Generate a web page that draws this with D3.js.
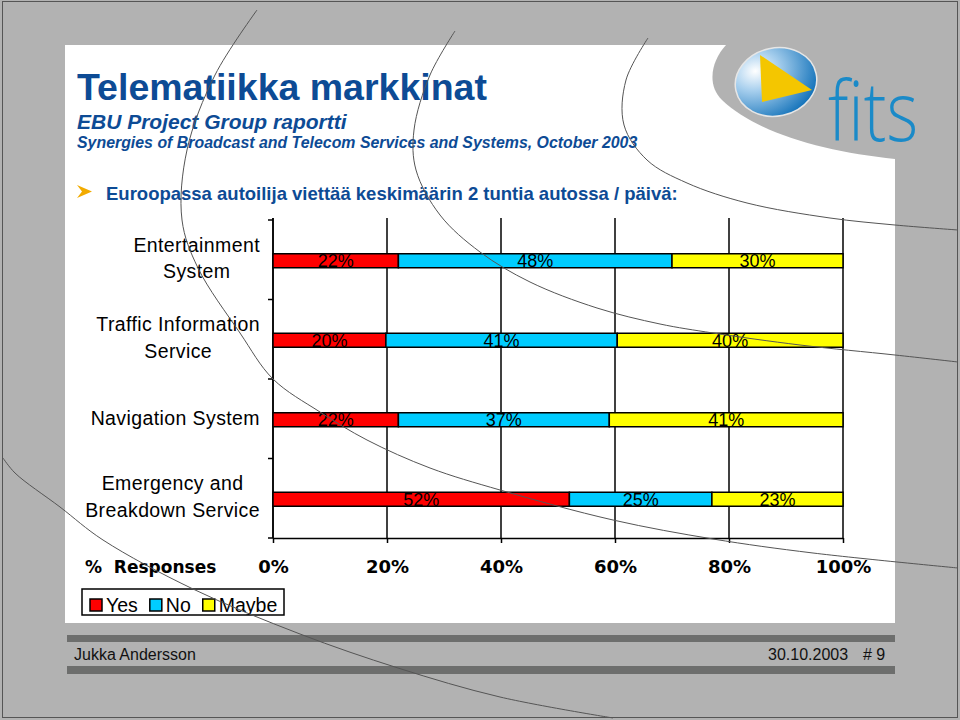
<!DOCTYPE html>
<html>
<head>
<meta charset="utf-8">
<script src="https://cdn.jsdelivr.net/npm/d3@7"></script>
<style>
  body { margin: 0; background: #fff; }
  svg { display: block; }
</style>
</head>
<body>
<div id="app"></div>
<script>
// chart data
const categories = ['Entertainment System', 'Traffic Information Service', 'Navigation System', 'Emergency and Breakdown Service'];
const categoryLines = [['Entertainment', 'System'], ['Traffic Information', 'Service'], ['Navigation System'], ['Emergency and', 'Breakdown Service']];
const seriesNames = ['Yes', 'No', 'Maybe'];
const yesValues = [22, 20, 22, 52];
const noValues = [48, 41, 37, 25];
const maybeValues = [30, 40, 41, 23];
const xTicks = [0, 20, 40, 60, 80, 100];

const colors = { Yes: '#ff0000', No: '#00ccff', Maybe: '#ffff00' };
const blue = '#0d4b95';
const arial = '"Liberation Sans", Arial, sans-serif';
const verdana = '"DejaVu Sans", Verdana, sans-serif';

const width = 960, height = 720;
const plot = { left: 273, right: 843, top: 220, bottom: 538 };

const svg = d3.select('#app').append('svg')
  .attr('width', width)
  .attr('height', height);

// slide background
svg.append('rect').attr('width', width).attr('height', height).attr('fill', '#b2b2b2');
svg.append('rect')
  .attr('x', 65).attr('y', 45).attr('width', 830).attr('height', 578)
  .attr('fill', '#fff');

// grey swoosh behind the logo
svg.append('path')
  .attr('d', 'M726,45 C712,60 706,84 722,100 C758,134 826,152 895,159 L895,45 Z')
  .attr('fill', '#b2b2b2');

// footer bars
svg.append('rect').attr('x', 67).attr('y', 635).attr('width', 828).attr('height', 7).attr('fill', '#6d6e6d');
svg.append('rect').attr('x', 67).attr('y', 666).attr('width', 828).attr('height', 8).attr('fill', '#6d6e6d');

svg.append('text')
  .attr('x', 74).attr('y', 660)
  .style('font-family', arial).style('font-size', '16px').attr('fill', '#111')
  .text('Jukka Andersson');
svg.append('text')
  .attr('x', 768).attr('y', 660)
  .style('font-family', arial).style('font-size', '16px').attr('fill', '#111')
  .text('30.10.2003');
svg.append('text')
  .attr('x', 863).attr('y', 660)
  .style('font-family', arial).style('font-size', '16px').attr('fill', '#111')
  .text('# 9');

// logo
const defs = svg.append('defs');
const grad = defs.append('radialGradient')
  .attr('id', 'ball').attr('cx', '28%').attr('cy', '28%').attr('r', '80%');
grad.append('stop').attr('offset', '0%').attr('stop-color', '#ffffff');
grad.append('stop').attr('offset', '35%').attr('stop-color', '#a9d0ee');
grad.append('stop').attr('offset', '100%').attr('stop-color', '#1473ba');

svg.append('ellipse')
  .attr('cx', 776).attr('cy', 82).attr('rx', 41).attr('ry', 34)
  .attr('transform', 'rotate(-12,776,82)')
  .attr('fill', 'url(#ball)')
  .attr('stroke', '#e6e6e6').attr('stroke-width', 1.5);
svg.append('path')
  .attr('d', 'M760,55 L812,90 L762,102 Z')
  .attr('fill', '#f4c600');
svg.append('text')
  .attr('x', 828).attr('y', 123)
  .attr('textLength', 90).attr('lengthAdjust', 'spacingAndGlyphs')
  .attr('transform', 'translate(0,-123) scale(1,1.15) translate(0,107)')
  .style('font-family', '"Open Sans", sans-serif').style('font-size', '72px').style('font-weight', 300)
  .attr('fill', '#1a8ac8')
  .text('fits');

// headings
svg.append('text')
  .attr('x', 77).attr('y', 100)
  .style('font-family', arial).style('font-size', '37.5px').style('font-weight', 'bold')
  .attr('fill', blue)
  .text('Telematiikka markkinat');
svg.append('text')
  .attr('x', 77).attr('y', 129)
  .style('font-family', arial).style('font-size', '21px').style('font-weight', 'bold').style('font-style', 'italic')
  .attr('fill', blue)
  .text('EBU Project Group raportti');
svg.append('text')
  .attr('x', 77).attr('y', 148)
  .style('font-family', arial).style('font-size', '15.9px').style('font-weight', 'bold').style('font-style', 'italic')
  .attr('fill', blue)
  .text('Synergies of Broadcast and Telecom Services and Systems, October 2003');

svg.append('path')
  .attr('d', 'M77,185 L92,191.5 L77,198 L82,191.5 Z')
  .attr('fill', '#f2ab00');
svg.append('text')
  .attr('x', 106).attr('y', 200)
  .style('font-family', arial).style('font-size', '18.5px').style('font-weight', 'bold')
  .attr('fill', blue)
  .text('Euroopassa autoilija viettää keskimäärin 2 tuntia autossa / päivä:');

// scales
const x = d3.scaleLinear().domain([0, 100]).range([plot.left, plot.right]);
const y = d3.scaleBand().domain(categories).range([plot.top, plot.bottom]);

const rows = categories.map((c, i) => ({
  category: c,
  Yes: yesValues[i],
  No: noValues[i],
  Maybe: maybeValues[i]
}));

const stacked = d3.stack()
  .keys(seriesNames)
  .offset(d3.stackOffsetExpand)(rows);

const chart = svg.append('g');

// vertical grid lines
chart.append('g')
  .selectAll('line')
  .data(xTicks)
  .join('line')
    .attr('x1', d => x(d)).attr('x2', d => x(d))
    .attr('y1', plot.top - 2).attr('y2', plot.bottom)
    .attr('stroke', '#000').attr('stroke-width', 1.5);

// x axis
const xAxis = chart.append('g')
  .attr('transform', `translate(0,${plot.bottom})`)
  .call(d3.axisBottom(x).tickValues(xTicks).tickSize(5).tickSizeOuter(0).tickFormat(d => d + '%'));
xAxis.select('.domain').attr('stroke', '#000').attr('stroke-width', 1.5);
xAxis.selectAll('.tick line').attr('stroke-width', 1.5);
xAxis.selectAll('.tick text')
  .attr('y', 35).attr('dy', 0)
  .style('font-family', verdana).style('font-size', '18px').style('font-weight', 'bold')
  .attr('fill', '#000');

// y axis with ticks on the band boundaries
const bounds = categories.map(c => y(c)).concat([plot.bottom]);
chart.append('line')
  .attr('x1', plot.left).attr('x2', plot.left)
  .attr('y1', plot.top - 2).attr('y2', plot.bottom)
  .attr('stroke', '#000').attr('stroke-width', 1.5);
chart.append('g')
  .selectAll('line')
  .data(bounds)
  .join('line')
    .attr('x1', plot.left - 5).attr('x2', plot.left)
    .attr('y1', d => d).attr('y2', d => d)
    .attr('stroke', '#000').attr('stroke-width', 1.5);

// category labels
const labelRight = 260;
chart.append('g')
  .selectAll('text')
  .data(categories)
  .join('text')
    .style('font-family', arial).style('font-size', '19.5px').style('letter-spacing', '0.4px')
    .attr('fill', '#000')
    .each(function(d, i) {
      const lines = categoryLines[i];
      const cy = y(d) + y.bandwidth() / 2;
      const t = d3.select(this);
      const spans = lines.map((line, j) => t.append('tspan')
        .attr('y', lines.length === 1 ? cy + 6.5 : cy - 8 + j * 26.5)
        .text(line));
      const widths = spans.map(s => s.node().getComputedTextLength());
      const maxW = d3.max(widths);
      spans.forEach((s, j) => s.attr('x', labelRight - maxW / 2 - widths[j] / 2));
    });

// bars
const barH = 14;
const layer = chart.append('g')
  .selectAll('g')
  .data(stacked)
  .join('g')
    .attr('fill', d => colors[d.key]);

layer.selectAll('rect')
  .data(d => d)
  .join('rect')
    .attr('x', d => x(d[0] * 100))
    .attr('width', d => x(d[1] * 100) - x(d[0] * 100))
    .attr('y', d => y(d.data.category) + y.bandwidth() / 2 + 1 - barH / 2)
    .attr('height', barH)
    .attr('stroke', '#000').attr('stroke-width', 1.5);

layer.selectAll('text')
  .data(d => d.map(v => ({ v, key: d.key })))
  .join('text')
    .attr('x', d => x((d.v[0] + d.v[1]) / 2 * 100))
    .attr('y', d => y(d.v.data.category) + y.bandwidth() / 2 + 7.5)
    .attr('text-anchor', 'middle')
    .style('font-family', arial).style('font-size', '18px')
    .attr('fill', '#000')
    .text(d => d.v.data[d.key] + '%');

// axis title
svg.append('text')
  .attr('x', 85).attr('y', 573)
  .attr('xml:space', 'preserve')
  .style('font-family', verdana).style('font-size', '17px').style('font-weight', 'bold')
  .style('white-space', 'pre')
  .text('%  Responses');

// legend
const legend = svg.append('g');
defs.append('clipPath').attr('id', 'legclip')
  .append('rect').attr('x', 82).attr('y', 589).attr('width', 202).attr('height', 26);
legend.append('rect')
  .attr('x', 82).attr('y', 589).attr('width', 202).attr('height', 26)
  .attr('fill', '#fff');
const items = legend.append('g').attr('clip-path', 'url(#legclip)');
let lx = 90;
seriesNames.forEach(name => {
  items.append('rect')
    .attr('x', lx).attr('y', 599).attr('width', 12).attr('height', 12)
    .attr('fill', colors[name]).attr('stroke', '#000').attr('stroke-width', 1.5);
  const t = items.append('text')
    .attr('x', lx + 16).attr('y', 612)
    .style('font-family', arial).style('font-size', '19.5px')
    .text(name);
  lx += 16 + t.node().getComputedTextLength() + 12;
});
legend.append('rect')
  .attr('x', 82).attr('y', 589).attr('width', 202).attr('height', 26)
  .attr('fill', 'none').attr('stroke', '#000').attr('stroke-width', 1.5);

// decorative curves across the slide
const curves = [
  [[257, 10], [215, 75], [187, 150], [182, 220], [198, 268], [240, 333], [273, 379], [320, 412], [367, 440], [430, 468], [500, 490], [613, 520], [713, 539], [813, 553], [958, 568]],
  [[455, 31], [430, 75], [414, 130], [416, 170], [440, 215], [480, 252], [530, 282], [597, 308], [660, 324], [713, 333], [800, 345], [895, 355], [958, 362]],
  [[648, 38], [626, 80], [624, 125], [647, 160], [687, 183], [747, 203], [830, 218], [895, 225], [958, 230]],
  [[3, 458], [15, 473], [60, 507], [103, 540], [193, 589], [300, 634], [398, 668], [500, 697], [613, 718]]
];
svg.append('g')
  .selectAll('path')
  .data(curves)
  .join('path')
    .attr('d', d3.line().curve(d3.curveCatmullRom))
    .attr('fill', 'none')
    .attr('stroke', '#555').attr('stroke-width', 1);

// outer frame
svg.append('rect')
  .attr('x', 2.5).attr('y', 1.5).attr('width', 955).attr('height', 716)
  .attr('fill', 'none').attr('stroke', '#555').attr('stroke-width', 1);
</script>
</body>
</html>
